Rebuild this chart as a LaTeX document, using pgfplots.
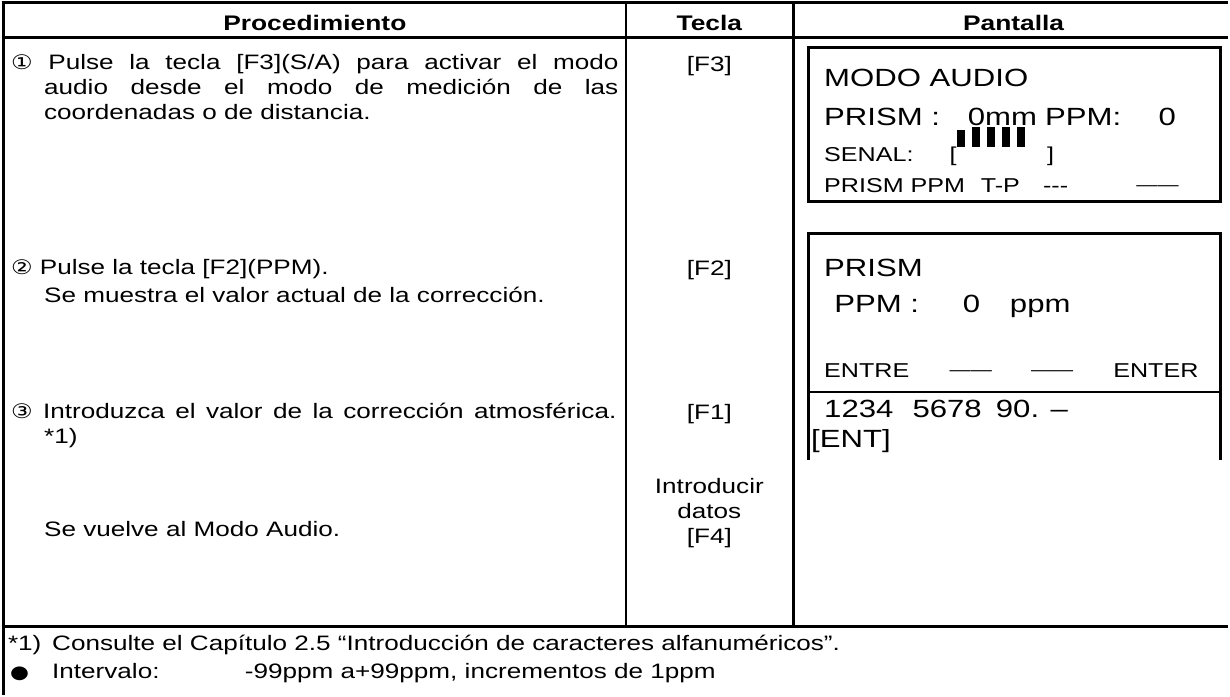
\documentclass[border=0pt]{standalone}
\usepackage{pgfplots}
\pgfplotsset{compat=1.18}
\usepackage{fontspec}
\setmainfont{Liberation Sans}[FakeStretch=1.25]
\newfontfamily\dejavu{DejaVu Sans}[FakeStretch=1.2]
\begin{document}
\begin{tikzpicture}
\begin{axis}[
  scale only axis, width=615pt, height=352pt,
  xmin=0, xmax=1230, ymin=0, ymax=704, y dir=reverse,
  hide axis, clip=false,
]
% table rules
\draw[line width=1.6pt] (axis cs:8,14) -- (axis cs:1230,14);
\draw[line width=1.5pt] (axis cs:8,49) -- (axis cs:1230,49);
\draw[line width=1.5pt] (axis cs:8,636) -- (axis cs:1230,636);
\draw[line width=1.6pt] (axis cs:9.5,13.2) -- (axis cs:9.5,704);
\draw[line width=1.4pt] (axis cs:630,14) -- (axis cs:630,636);
\draw[line width=1.4pt] (axis cs:797,14) -- (axis cs:797,636);
% screen boxes
\draw[line width=1.4pt] (axis cs:812,59) rectangle (axis cs:1222,212);
\draw[line width=1.4pt] (axis cs:812,402) -- (axis cs:812,244) -- (axis cs:1222,244) -- (axis cs:1222,402);
\draw[line width=1.0pt] (axis cs:812,402) -- (axis cs:1222,402);
\draw[line width=1.4pt] (axis cs:812,402) -- (axis cs:812,470);
\draw[line width=1.4pt] (axis cs:1222,402) -- (axis cs:1222,470);
% header
\begin{scope}[every node/.style={anchor=base, inner sep=0, font=\bfseries\fontsize{10.5}{12}\selectfont}]
\node at (axis cs:320,42) {Procedimiento};
\node at (axis cs:713,42) {Tecla};
\node at (axis cs:1016,42) {Pantalla};
\end{scope}
% procedure column
\begin{scope}[every node/.style={anchor=base west, inner sep=0, font=\fontsize{10.4}{12.5}\selectfont}]
\node at (axis cs:17,81) {\makebox[302.5pt][s]{{\dejavu\fontsize{10}{11}\selectfont ①} Pulse la tecla [F3](S/A) para activar el modo}};
\node at (axis cs:50,106) {\makebox[286pt][s]{audio desde el modo de medición de las}};
\node at (axis cs:50,131) {coordenadas o de distancia.};
\node at (axis cs:17,285) {{\dejavu\fontsize{10}{11}\selectfont ②} Pulse la tecla [F2](PPM).};
\node at (axis cs:50,313) {Se muestra el valor actual de la corrección.};
\node at (axis cs:17,428) {\makebox[301.5pt][s]{{\dejavu\fontsize{10}{11}\selectfont ③} Introduzca el valor de la corrección atmosférica.}};
\node at (axis cs:50,453) {*1)};
\node at (axis cs:50,546) {Se vuelve al Modo Audio.};
\end{scope}
% key column
\begin{scope}[every node/.style={anchor=base, inner sep=0, font=\fontsize{10.4}{12.5}\selectfont}]
\node at (axis cs:713,83) {[F3]};
\node at (axis cs:713,286) {[F2]};
\node at (axis cs:713,429) {[F1]};
\node at (axis cs:713,503) {Introducir};
\node at (axis cs:713,528) {datos};
\node at (axis cs:713,553) {[F4]};
\end{scope}
% screens: big text
\begin{scope}[every node/.style={anchor=base west, inner sep=0, font=\fontsize{12.4}{14}\selectfont}]
\node at (axis cs:827,98) {MODO AUDIO};
\node at (axis cs:827,137) {PRISM :};
\node at (axis cs:970,137) {0mm};
\node at (axis cs:1047,137) {PPM:};
\node at (axis cs:1160,137) {0};
\node at (axis cs:827,287) {PRISM};
\node at (axis cs:837,323) {PPM :};
\node at (axis cs:965,323) {0};
\node at (axis cs:1012,323) {ppm};
\node at (axis cs:827,427) {1234};
\node at (axis cs:915,427) {5678};
\node at (axis cs:998,427) {90. –};
\node at (axis cs:814,457) {[ENT]};
\end{scope}
% screens: small text
\begin{scope}[every node/.style={anchor=base west, inner sep=0, font=\fontsize{10}{12}\selectfont}]
\node at (axis cs:827,172) {SENAL:};
\node at (axis cs:952,172) {[};
\node at (axis cs:1049,172) {]};
\node at (axis cs:827,203) {PRISM};
\node at (axis cs:913,203) {PPM};
\node at (axis cs:983,203) {T-P};
\node at (axis cs:1045,203) {-{}-{}-};
\node at (axis cs:827,388) {ENTRE};
\node at (axis cs:1115,388) {ENTER};
\end{scope}
\begin{scope}[every node/.style={anchor=base west, inner sep=0, font=\fontsize{8.4}{10}\selectfont}]
\node at (axis cs:1138,201) {——};
\node at (axis cs:952,386) {——};
\node at (axis cs:1033,386) {——};
\end{scope}
% signal bars
\addplot[fill=black, draw=none] coordinates {(960,141) (968,141) (968,158) (960,158)} --cycle;
\addplot[fill=black, draw=none] coordinates {(975,138) (983,138) (983,158) (975,158)} --cycle;
\addplot[fill=black, draw=none] coordinates {(990,138) (998,138) (998,158) (990,158)} --cycle;
\addplot[fill=black, draw=none] coordinates {(1004,138) (1012,138) (1012,158) (1004,158)} --cycle;
\addplot[fill=black, draw=none] coordinates {(1019,138) (1027,138) (1027,158) (1019,158)} --cycle;
% footnote
\begin{scope}[every node/.style={anchor=base west, inner sep=0, font=\fontsize{10.4}{12.5}\selectfont}]
\node at (axis cs:14,660) {*1)};
\node at (axis cs:58,660) {Consulte el Capítulo 2.5 “Introducción de caracteres alfanuméricos”.};
\node at (axis cs:16,687) {{\dejavu\fontsize{9}{11}\selectfont ●}};
\node at (axis cs:58,687) {Intervalo:};
\node at (axis cs:250,687) {-99ppm a+99ppm, incrementos de 1ppm};
\end{scope}
\end{axis}
\end{tikzpicture}
\end{document}
